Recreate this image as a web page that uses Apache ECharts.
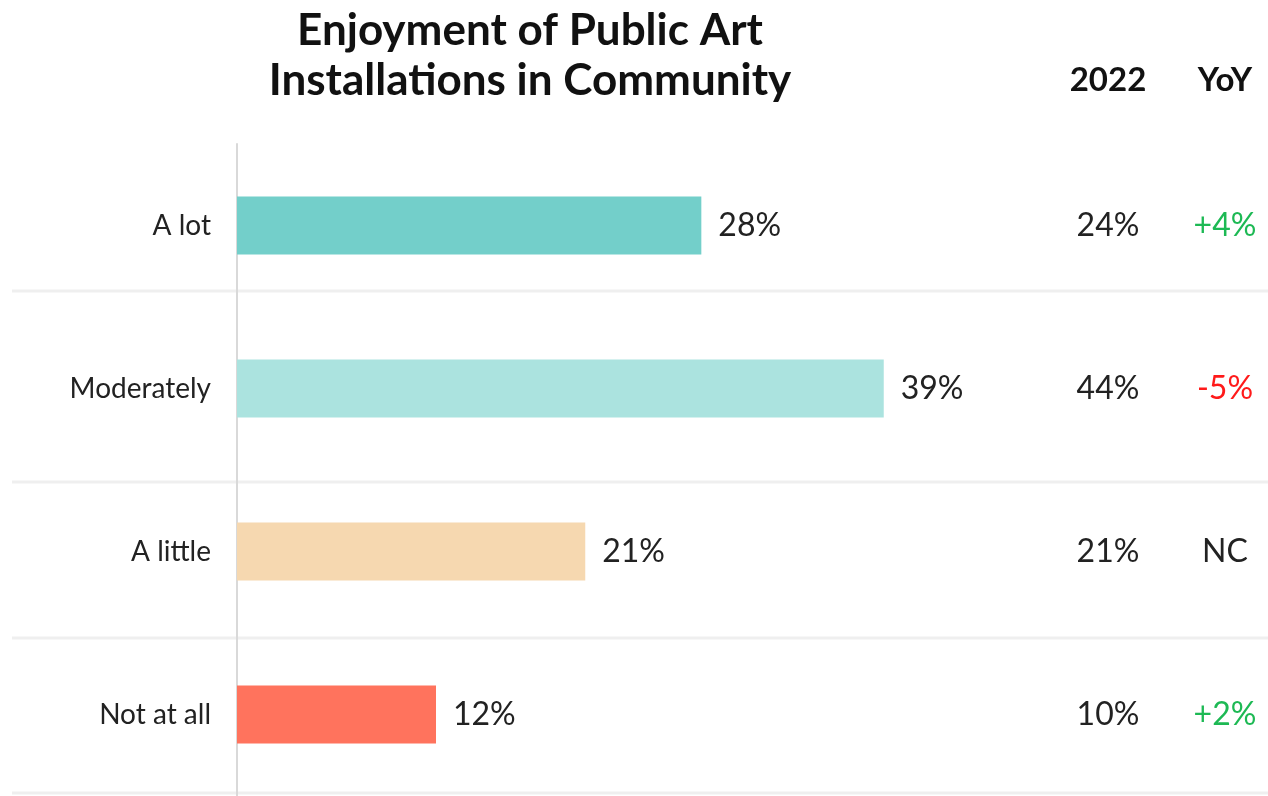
<!DOCTYPE html>
<html>
<head>
<meta charset="utf-8">
<title>Enjoyment of Public Art Installations in Community</title>
<script src="https://cdn.jsdelivr.net/npm/echarts@6/dist/echarts.min.js"></script>
<style>
  html, body { margin: 0; padding: 0; background: #fff; }
  #chart { width: 1268px; height: 796px; }
</style>
</head>
<body>
<div id="chart"></div>
<script>
const categories = ['A lot', 'Moderately', 'A little', 'Not at all']
const values2023 = [28, 39, 21, 12]
const values2022 = [24, 44, 21, 10]
const yoyLabels = ['+4%', '-5%', 'NC', '+2%']
const barColors = ['#73cfca', '#abe3df', '#f6d8b0', '#ff735d']

const fontFamily = 'Lato, "Noto Sans", sans-serif'

// colour of the YoY text: up green, down red, no change dark
function yoyStyle (txt) {
  if (txt.charAt(0) === '+') return 'up'
  if (txt.charAt(0) === '-') return 'down'
  return 'nc'
}

const chart = echarts.init(document.getElementById('chart'))

// row separators (pure decoration, not data)
const sepY = [291, 482, 638, 793]
const separators = sepY.map(y => ({
  type: 'line',
  shape: { x1: 12, y1: y, x2: 1268, y2: y },
  style: { stroke: '#efefef', lineWidth: 3 },
  z: 0
}))

const headerStyle = {
  fontFamily,
  fontSize: 33,
  fontWeight: 'bold',
  color: '#111',
  align: 'center',
  verticalAlign: 'middle'
}

chart.setOption({
  backgroundColor: '#fff',
  animation: false,
  title: {
    text: 'Enjoyment of Public Art\nInstallations in Community',
    left: 525,
    top: 1,
    textAlign: 'center',
    textStyle: {
      fontFamily,
      fontSize: 44,
      fontWeight: 'bold',
      color: '#111',
      lineHeight: 50
    }
  },
  graphic: separators,
  grid: {
    left: 237,
    right: 36,
    top: 144,
    bottom: -4,
    containLabel: false
  },
  xAxis: {
    type: 'value',
    min: 0,
    max: 60,
    show: false
  },
  yAxis: [
    {
      type: 'category',
      data: categories,
      inverse: true,
      axisLine: { show: true, lineStyle: { color: '#d9d9d9', width: 2 } },
      axisTick: { show: false },
      axisLabel: {
        fontFamily,
        fontSize: 28,
        color: '#222',
        margin: 26
      }
    },
    {
      type: 'category',
      data: values2022.map(v => v + '%'),
      inverse: true,
      position: 'right',
      offset: -124,
      name: '2022',
      nameLocation: 'start',
      nameGap: 64,
      nameTextStyle: headerStyle,
      axisLine: { show: false },
      axisTick: { show: false },
      axisLabel: {
        fontFamily,
        fontSize: 32,
        color: '#222',
        align: 'center',
        margin: 0
      }
    },
    {
      type: 'category',
      data: yoyLabels,
      inverse: true,
      position: 'right',
      offset: -7,
      name: 'YoY',
      nameLocation: 'start',
      nameGap: 64,
      nameTextStyle: headerStyle,
      axisLine: { show: false },
      axisTick: { show: false },
      axisLabel: {
        align: 'center',
        margin: 0,
        formatter: v => '{' + yoyStyle(v) + '|' + v + '}',
        rich: {
          up: { fontFamily, fontSize: 32, color: '#1db954' },
          down: { fontFamily, fontSize: 32, color: '#ff1a1a' },
          nc: { fontFamily, fontSize: 32, color: '#222' }
        }
      }
    }
  ],
  series: [
    {
      type: 'bar',
      yAxisIndex: 0,
      barWidth: 58,
      data: values2023.map((v, i) => ({ value: v, itemStyle: { color: barColors[i] } })),
      label: {
        show: true,
        position: 'right',
        distance: 17,
        formatter: '{c}%',
        fontFamily,
        fontSize: 32,
        color: '#222'
      },
      z: 2
    }
  ]
})
</script>
</body>
</html>
